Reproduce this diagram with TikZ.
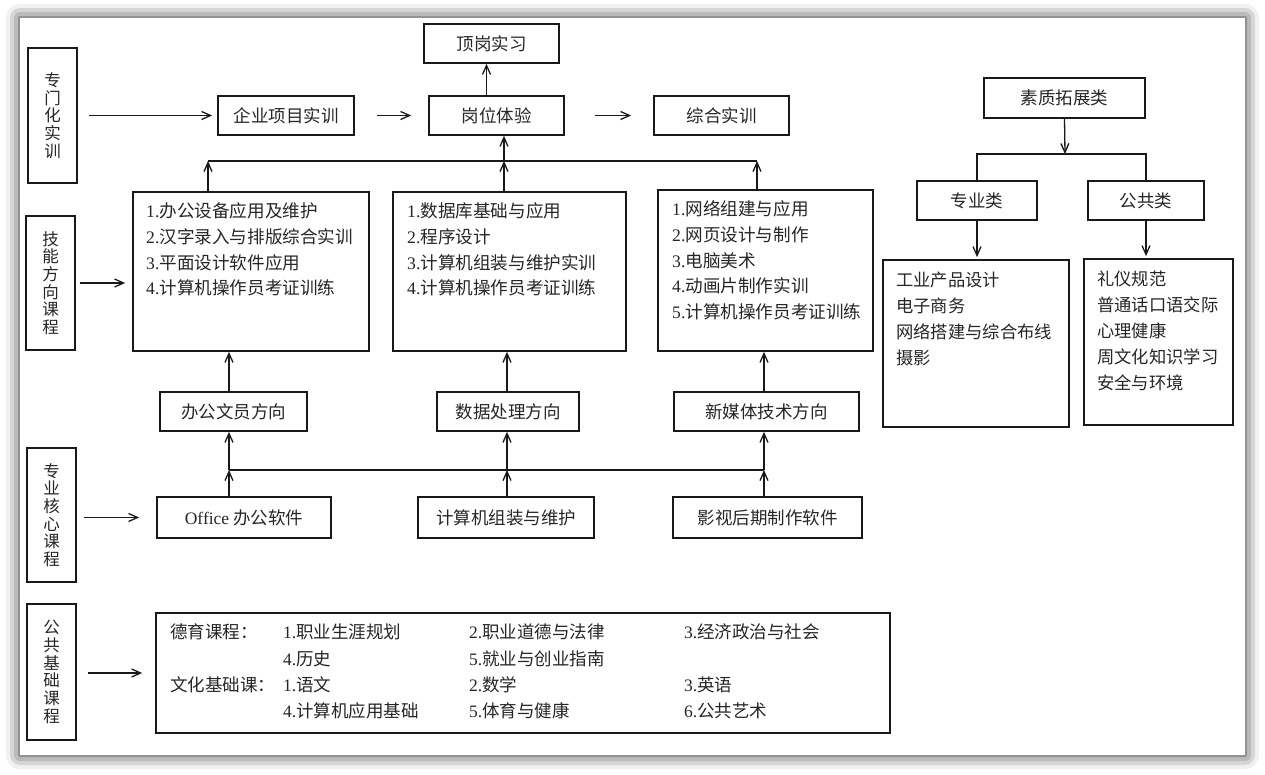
\documentclass[tikz,border=0pt]{standalone}
\usepackage{fontspec}
\setmainfont{Noto Sans CJK SC}
\newfontfamily\latin{Liberation Serif}
\usetikzlibrary{arrows.meta,shadows.blur}
\newcommand\nr[1]{{\latin #1.}}
\tikzset{
	box/.style={draw=black!90, line width=1.7pt, inner sep=0pt, text=black!85, font=\fontsize{17.5}{20}\selectfont},
	side/.style={box, align=center, minimum width=49pt, font=\fontsize{16.5}{17.7}\selectfont},
	list/.style={anchor=west, inner sep=0pt, align=left, text=black!85, font=\fontsize{17.6}{25.7}\selectfont},
	link/.style={draw=black!90, line width=1.3pt, -{Straight Barb[length=9pt,width=8pt]}},
	bus/.style={draw=black!90, line width=1.3pt}
}
\begin{document}
\begin{tikzpicture}[x=1pt,y=-1pt]
	\useasboundingbox (0,0) rectangle (1265,775);
	\fill[white, blur shadow={shadow xshift=0pt, shadow yshift=0pt, shadow blur radius=14pt, shadow opacity=85}] (20,18) rectangle (1245,755);

	\node[side, minimum height=135pt] (zmh) at (52.5,115.5) {专\\门\\化\\实\\训};
	\node[side, minimum height=134pt] (jn) at (50.5,283) {技\\能\\方\\向\\课\\程};
	\node[side, minimum height=134pt] (hx) at (51.5,515) {专\\业\\核\\心\\课\\程};
	\node[side, minimum height=136pt] (gg) at (51.5,672) {公\\共\\基\\础\\课\\程};

	\node[box, minimum width=136pt, minimum height=39pt] (qiye) at (286,115.5) {企业项目实训};
	\node[box, minimum width=135pt, minimum height=39pt] (gangwei) at (496.5,115.5) {岗位体验};
	\node[box, minimum width=135pt, minimum height=39pt] (dinggang) at (491.5,43.5) {顶岗实习};
	\node[box, minimum width=135pt, minimum height=39pt] (zonghe) at (721.5,115.5) {综合实训};

	\node[box, minimum width=236pt, minimum height=159pt] (ban) at (251,271.5) {};
	\node[box, minimum width=233pt, minimum height=159pt] (shu) at (509.5,271.5) {};
	\node[box, minimum width=215pt, minimum height=161pt] (mei) at (765.5,270.5) {};
	\node[list] (banT) at (146,249.5) {\nr1办公设备应用及维护\\\nr2汉字录入与排版综合实训\\\nr3平面设计软件应用\\\nr4计算机操作员考证训练};
	\node[list] (shuT) at (407,249.5) {\nr1数据库基础与应用\\\nr2程序设计\\\nr3计算机组装与维护实训\\\nr4计算机操作员考证训练};
	\node[list] (meiT) at (672,260.5) {\nr1网络组建与应用\\\nr2网页设计与制作\\\nr3电脑美术\\\nr4动画片制作实训\\\nr5计算机操作员考证训练};

	\node[box, minimum width=147pt, minimum height=39pt] (banF) at (233.5,411.5) {办公文员方向};
	\node[box, minimum width=142pt, minimum height=39pt] (shuF) at (508,411.5) {数据处理方向};
	\node[box, minimum width=185pt, minimum height=39pt] (meiF) at (766.5,411.5) {新媒体技术方向};

	\node[box, minimum width=174pt, minimum height=41pt] (office) at (244,517.5) {{\latin Office} 办公软件};
	\node[box, minimum width=176pt, minimum height=41pt] (zuzhuang) at (506,517.5) {计算机组装与维护};
	\node[box, minimum width=189pt, minimum height=41pt] (yingshi) at (767.5,517.5) {影视后期制作软件};

	\node[box, minimum width=734pt, minimum height=120pt] (base) at (523,673) {};
	\node[anchor=west, inner sep=0pt, text=black!85, font=\fontsize{17.5}{26.3}\selectfont] (baseT) at (170,673) {%
		\begin{tabular}{@{}p{113pt}@{}p{186pt}@{}p{215pt}@{}l@{}}
			德育课程： & \nr1职业生涯规划 & \nr2职业道德与法律 & \nr3经济政治与社会\\
			& \nr4历史 & \nr5就业与创业指南 & \\
			文化基础课： & \nr1语文 & \nr2数学 & \nr3英语\\
			& \nr4计算机应用基础 & \nr5体育与健康 & \nr6公共艺术
		\end{tabular}};

	\node[box, minimum width=161pt, minimum height=40pt] (suzhi) at (1064.5,98) {素质拓展类};
	\node[box, minimum width=120pt, minimum height=39pt] (zhuan) at (977,200.5) {专业类};
	\node[box, minimum width=116pt, minimum height=39pt] (gong) at (1146,200.5) {公共类};
	\node[box, minimum width=186pt, minimum height=167pt] (zhuanL) at (976,343.5) {};
	\node[box, minimum width=149pt, minimum height=166pt] (gongL) at (1158.5,342) {};
	\node[list, font=\fontsize{17.3}{26}\selectfont] (zhuanT) at (896,319) {工业产品设计\\电子商务\\网络搭建与综合布线\\摄影};
	\node[list, font=\fontsize{17.3}{26}\selectfont] (gongT) at (1097,331) {礼仪规范\\普通话口语交际\\心理健康\\周文化知识学习\\安全与环境};

	\draw[link, shorten <=11pt, shorten >=5pt] (zmh.east |- qiye.west) -- (qiye.west);
	\draw[link, shorten <=22pt, shorten >=17pt] (qiye) -- (gangwei);
	\draw[link, shorten <=30pt, shorten >=22pt] (gangwei) -- (zonghe);
	\coordinate (up) at ([xshift=-10pt]gangwei.north);
	\draw[link] (up) -- (up |- dinggang.south);

	\coordinate (busL) at (208,161);
	\coordinate (busM) at (504,161);
	\coordinate (busR) at (757,161);
	\draw[bus] (busL) -- (busR);
	\draw[link] (ban.north -| busL) -- (busL);
	\draw[link] (shu.north -| busM) -- (busM);
	\draw[link] (mei.north -| busR) -- (busR);
	\draw[link] (busM) -- (gangwei.south -| busM);
	\draw[link, shorten <=4pt, shorten >=7pt] (jn.east) -- (jn.east -| ban.west);

	\coordinate (lowL) at (229,470);
	\coordinate (lowM) at (507,470);
	\coordinate (lowR) at (764,470);
	\draw[bus] (lowL) -- (lowR);
	\draw[link] (office.north -| lowL) -- (lowL);
	\draw[link] (zuzhuang.north -| lowM) -- (lowM);
	\draw[link] (yingshi.north -| lowR) -- (lowR);
	\draw[link] (lowL) -- (banF.south -| lowL);
	\draw[link] (lowM) -- (shuF.south -| lowM);
	\draw[link] (lowR) -- (meiF.south -| lowR);
	\draw[link] (banF.north -| lowL) -- (ban.south -| lowL);
	\draw[link] (shuF.north -| lowM) -- (shu.south -| lowM);
	\draw[link] (meiF.north -| lowR) -- (mei.south -| lowR);
	\draw[link, shorten <=7pt, shorten >=17pt] (hx.east |- office.west) -- (office.west);
	\draw[link, shorten <=11pt, shorten >=13pt] (gg.east |- base.west) -- (base.west);

	\coordinate (rbus) at (1065,154);
	\draw[bus] (zhuan.north) |- (rbus) -| (gong.north);
	\draw[link] (suzhi.south) -- (rbus);
	\draw[link, shorten >=2pt] (zhuan.south) -- (zhuanL.north -| zhuan.south);
	\draw[link, shorten >=2pt] (gong.south) -- (gongL.north -| gong.south);
\end{tikzpicture}
\end{document}
